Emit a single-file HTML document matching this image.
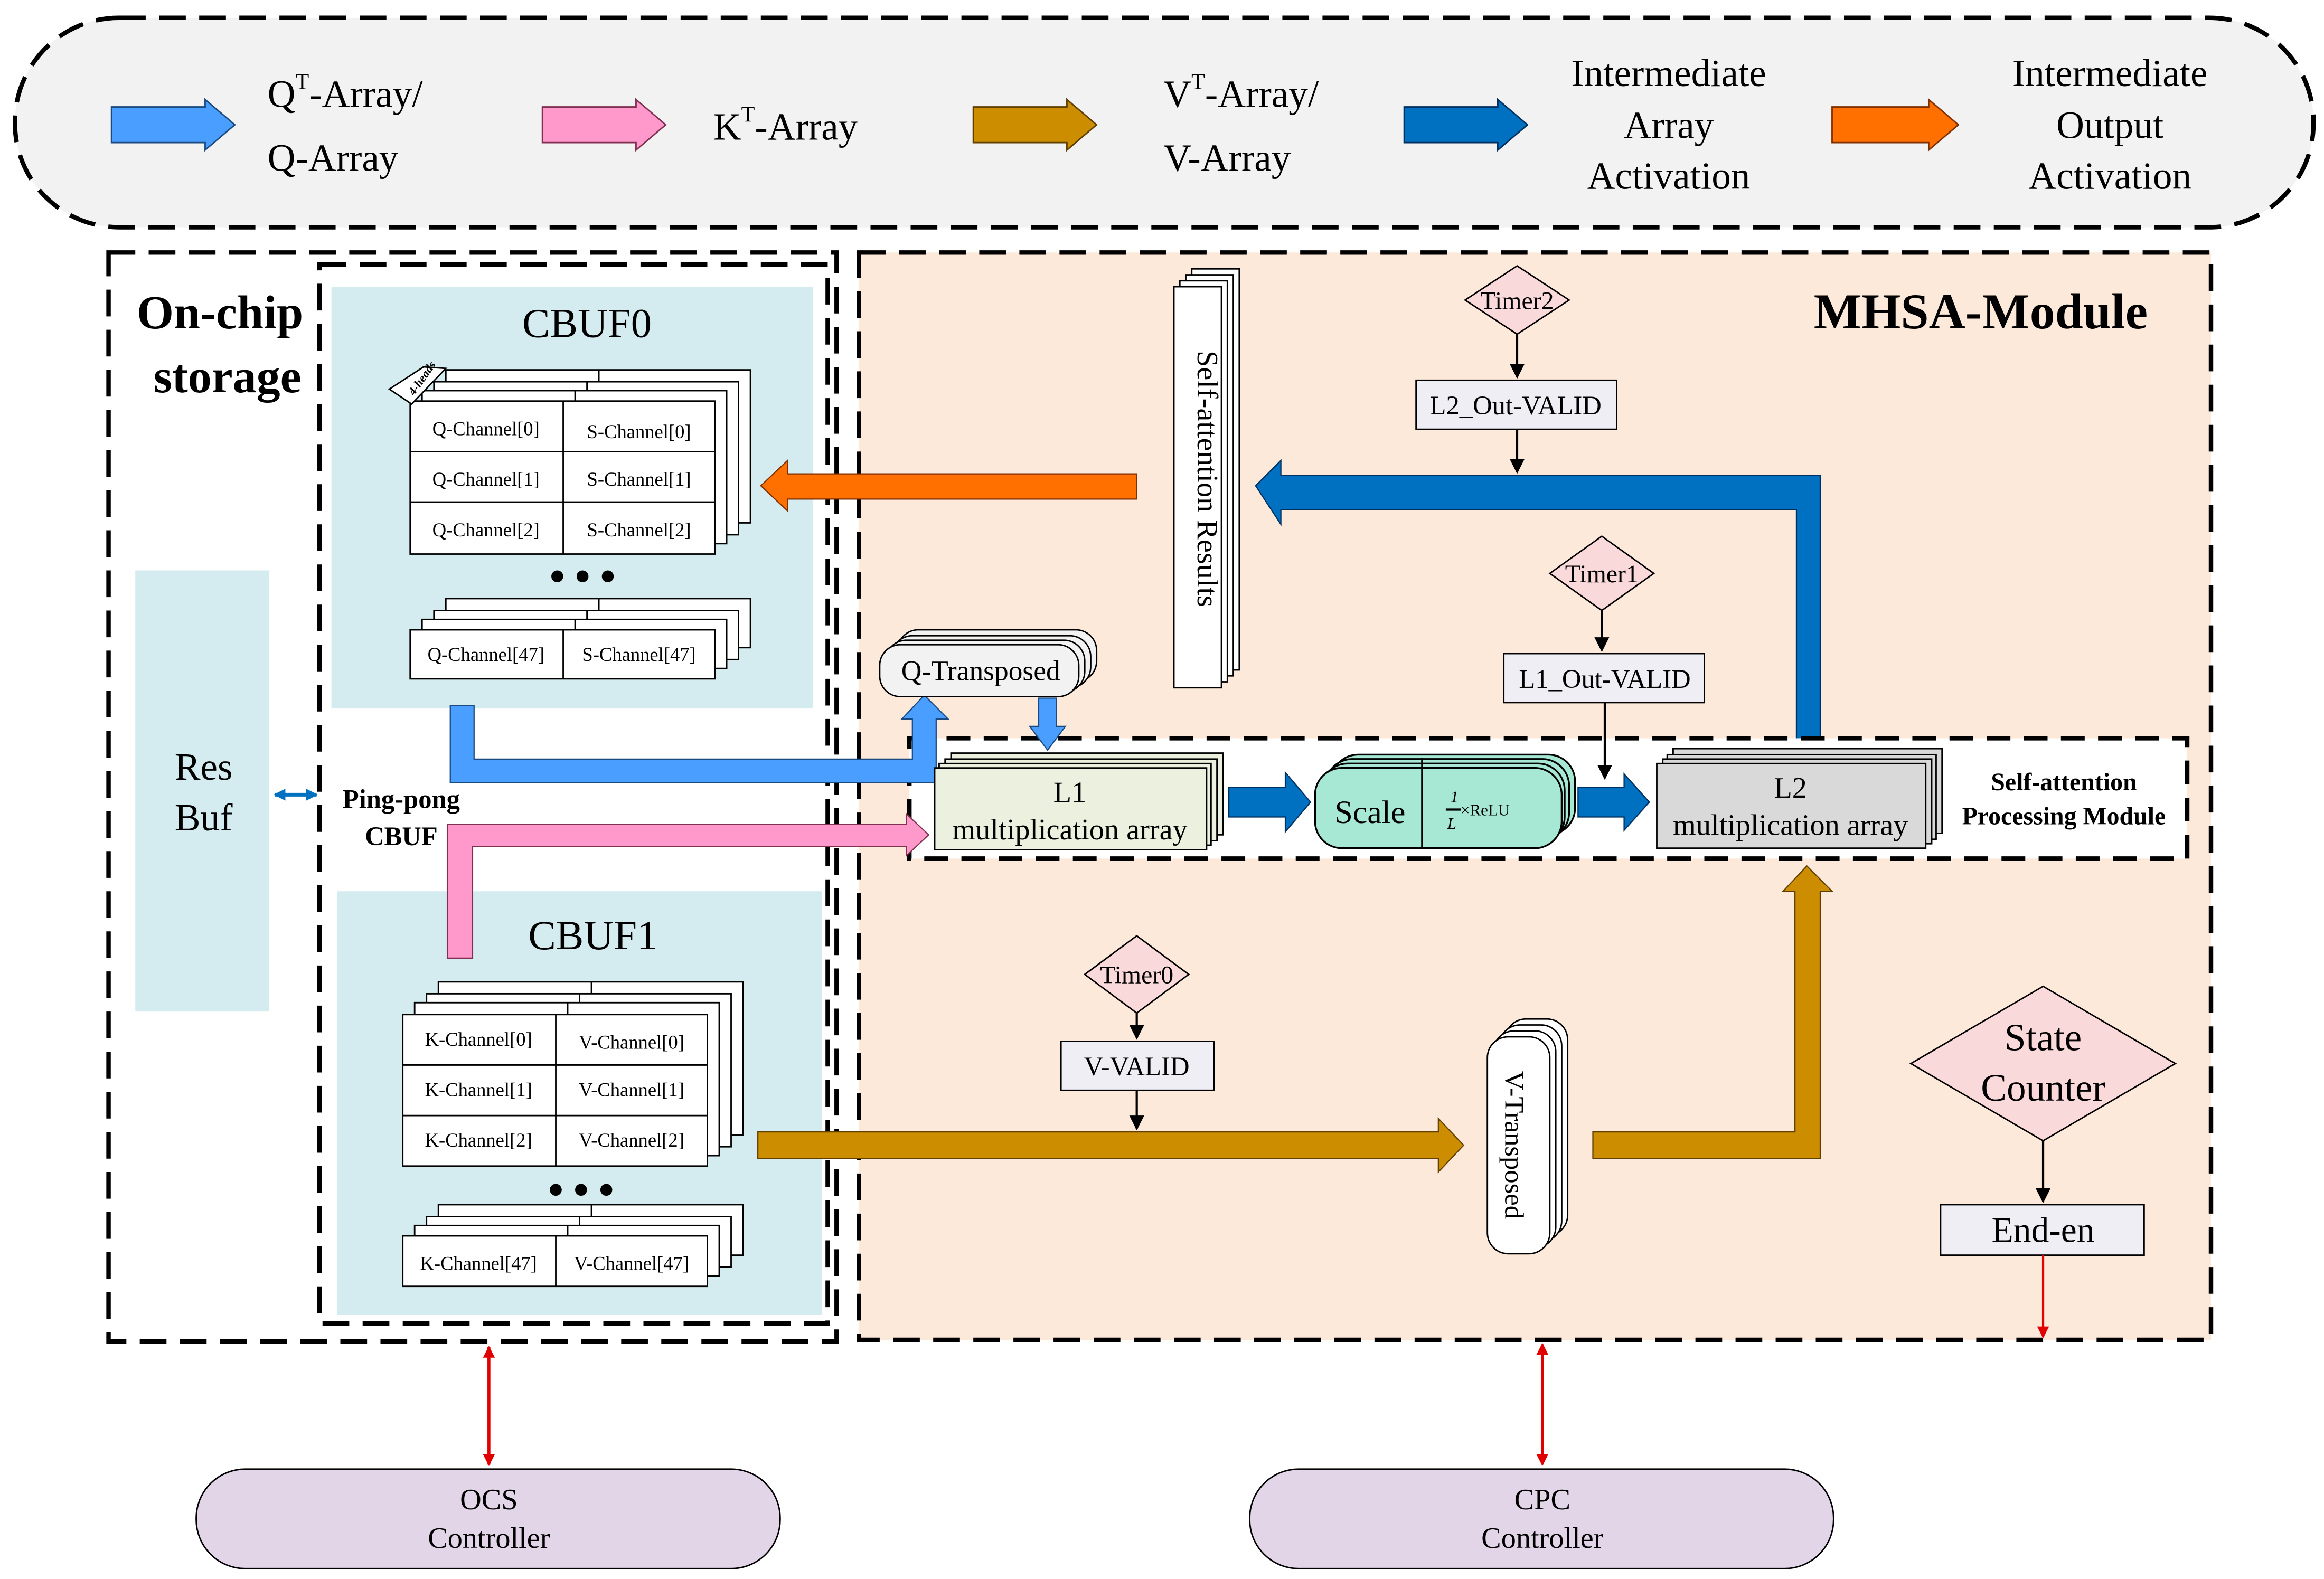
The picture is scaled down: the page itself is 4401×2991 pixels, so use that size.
<!DOCTYPE html>
<html><head><meta charset="utf-8"><style>
html,body{margin:0;padding:0;background:#fff;}
svg{display:block;}
text{font-family:"Liberation Serif",serif;fill:#000;}
</style></head><body>
<svg width="4401" height="2991" viewBox="0 0 1564 1063" xmlns="http://www.w3.org/2000/svg">
<defs>
<marker id="ra" markerWidth="8" markerHeight="8" refX="7" refY="4" orient="auto-start-reverse" markerUnits="userSpaceOnUse"><path d="M0,0 L8,4 L0,8 z" fill="#e00000"/></marker>
<marker id="ka" markerWidth="10" markerHeight="10" refX="9" refY="5" orient="auto" markerUnits="userSpaceOnUse"><path d="M0,0 L10,5 L0,10 z" fill="#000"/></marker>
<marker id="ba" markerWidth="8" markerHeight="8" refX="7" refY="4" orient="auto-start-reverse" markerUnits="userSpaceOnUse"><path d="M0,0 L8,4 L0,8 z" fill="#0070c0"/></marker>
</defs>

<!-- Legend -->
<rect x="10" y="12" width="1547" height="141" rx="70" fill="#f2f2f2" stroke="#000" stroke-width="3" stroke-dasharray="18,9"/>
<polygon points="75,72 138,72 138,67 158,84 138,101 138,96 75,96" fill="#4a9eff" stroke="#1a4a80" stroke-width="1"/>
<text x="180" y="72" font-size="26">Q<tspan font-size="15" dy="-12">T</tspan><tspan dy="12">-Array/</tspan></text>
<text x="180" y="115" font-size="26">Q-Array</text>
<polygon points="365,72 428,72 428,67 448,84 428,101 428,96 365,96" fill="#ff99cc" stroke="#803050" stroke-width="1"/>
<text x="480" y="94" font-size="26">K<tspan font-size="15" dy="-12">T</tspan><tspan dy="12">-Array</tspan></text>
<polygon points="655,72 718,72 718,67 738,84 718,101 718,96 655,96" fill="#cc8e00" stroke="#604000" stroke-width="1"/>
<text x="783" y="72" font-size="26">V<tspan font-size="15" dy="-12">T</tspan><tspan dy="12">-Array/</tspan></text>
<text x="783" y="115" font-size="26">V-Array</text>
<polygon points="945,72 1008,72 1008,67 1028,84 1008,101 1008,96 945,96" fill="#0070c0" stroke="#003060" stroke-width="1"/>
<text x="1123" y="58" font-size="26" text-anchor="middle">Intermediate</text>
<text x="1123" y="93" font-size="26" text-anchor="middle">Array</text>
<text x="1123" y="127" font-size="26" text-anchor="middle">Activation</text>
<polygon points="1233,72 1298,72 1298,67 1318,84 1298,101 1298,96 1233,96" fill="#ff7000" stroke="#803000" stroke-width="1"/>
<text x="1420" y="58" font-size="26" text-anchor="middle">Intermediate</text>
<text x="1420" y="93" font-size="26" text-anchor="middle">Output</text>
<text x="1420" y="127" font-size="26" text-anchor="middle">Activation</text>

<!-- MHSA region -->
<rect x="578" y="170" width="910" height="732" fill="#fde9d9" stroke="#000" stroke-width="3" stroke-dasharray="18,9"/>
<!-- On-chip storage -->
<rect x="73" y="170" width="490" height="733" fill="none" stroke="#000" stroke-width="3" stroke-dasharray="18,9"/>
<rect x="215" y="178" width="342" height="713" fill="none" stroke="#000" stroke-width="3" stroke-dasharray="18,9"/>
<rect x="223" y="193" width="324" height="284" fill="#d4ecf0"/>
<rect x="227" y="600" width="326" height="285" fill="#d4ecf0"/>
<rect x="91" y="384" width="90" height="297" fill="#d4ecf0"/>
<text x="148" y="221" font-size="32" font-weight="bold" text-anchor="middle">On-chip</text>
<text x="153" y="264" font-size="32" font-weight="bold" text-anchor="middle">storage</text>
<text x="395" y="227" font-size="28" text-anchor="middle">CBUF0</text>
<text x="399" y="639" font-size="28" text-anchor="middle">CBUF1</text>
<text x="137" y="525" font-size="26" text-anchor="middle">Res</text>
<text x="137" y="559" font-size="26" text-anchor="middle">Buf</text>
<text x="270" y="544" font-size="18" font-weight="bold" text-anchor="middle">Ping-pong</text>
<text x="270" y="569" font-size="18" font-weight="bold" text-anchor="middle">CBUF</text>
<line x1="185" y1="535" x2="213" y2="535" stroke="#0070c0" stroke-width="2.5" marker-start="url(#ba)" marker-end="url(#ba)"/>

<!-- CBUF0 tables -->
<g stroke="#000" stroke-width="1" fill="#fff">
<rect x="300" y="249" width="205" height="103"/><line x1="403" y1="249" x2="403" y2="260"/>
<rect x="292" y="257" width="205" height="103"/><line x1="395" y1="257" x2="395" y2="268"/>
<rect x="284" y="263" width="205" height="103"/><line x1="387" y1="263" x2="387" y2="274"/>
<rect x="276" y="270" width="205" height="103"/>
<line x1="379" y1="270" x2="379" y2="373"/><line x1="276" y1="304" x2="481" y2="304"/><line x1="276" y1="338" x2="481" y2="338"/>
<rect x="300" y="403" width="205" height="33"/><line x1="403" y1="403" x2="403" y2="414"/>
<rect x="292" y="411" width="205" height="33"/><line x1="395" y1="411" x2="395" y2="422"/>
<rect x="284" y="417" width="205" height="33"/><line x1="387" y1="417" x2="387" y2="428"/>
<rect x="276" y="424" width="205" height="33"/><line x1="379" y1="424" x2="379" y2="457"/>
</g>
<polygon points="262,262 285,247 300,248 277,272" fill="#fff" stroke="#000" stroke-width="1"/>
<text x="270" y="266" font-size="8" font-weight="bold" font-style="italic" transform="rotate(-55 275 258)">4-heads</text>
<g font-size="13">
<text x="327" y="293" text-anchor="middle">Q-Channel[0]</text><text x="430" y="295" text-anchor="middle">S-Channel[0]</text>
<text x="327" y="327" text-anchor="middle">Q-Channel[1]</text><text x="430" y="327" text-anchor="middle">S-Channel[1]</text>
<text x="327" y="361" text-anchor="middle">Q-Channel[2]</text><text x="430" y="361" text-anchor="middle">S-Channel[2]</text>
<text x="327" y="445" text-anchor="middle">Q-Channel[47]</text><text x="430" y="445" text-anchor="middle">S-Channel[47]</text>
</g>
<circle cx="375" cy="388" r="4"/><circle cx="392" cy="388" r="4"/><circle cx="409" cy="388" r="4"/>

<!-- CBUF1 tables -->
<g stroke="#000" stroke-width="1" fill="#fff">
<rect x="295" y="661" width="205" height="103"/><line x1="398" y1="661" x2="398" y2="672"/>
<rect x="287" y="669" width="205" height="103"/><line x1="390" y1="669" x2="390" y2="680"/>
<rect x="279" y="675" width="205" height="103"/><line x1="382" y1="675" x2="382" y2="686"/>
<rect x="271" y="683" width="205" height="102"/>
<line x1="374" y1="683" x2="374" y2="785"/><line x1="271" y1="717" x2="476" y2="717"/><line x1="271" y1="751" x2="476" y2="751"/>
<rect x="295" y="811" width="205" height="34"/><line x1="398" y1="811" x2="398" y2="822"/>
<rect x="287" y="819" width="205" height="34"/><line x1="390" y1="819" x2="390" y2="830"/>
<rect x="279" y="825" width="205" height="34"/><line x1="382" y1="825" x2="382" y2="836"/>
<rect x="271" y="832" width="205" height="34"/><line x1="374" y1="832" x2="374" y2="866"/>
</g>
<g font-size="13">
<text x="322" y="704" text-anchor="middle">K-Channel[0]</text><text x="425" y="706" text-anchor="middle">V-Channel[0]</text>
<text x="322" y="738" text-anchor="middle">K-Channel[1]</text><text x="425" y="738" text-anchor="middle">V-Channel[1]</text>
<text x="322" y="772" text-anchor="middle">K-Channel[2]</text><text x="425" y="772" text-anchor="middle">V-Channel[2]</text>
<text x="322" y="855" text-anchor="middle">K-Channel[47]</text><text x="425" y="855" text-anchor="middle">V-Channel[47]</text>
</g>
<circle cx="374" cy="801" r="4"/><circle cx="391" cy="801" r="4"/><circle cx="408" cy="801" r="4"/>

<text x="1333" y="221" font-size="34" font-weight="bold" text-anchor="middle">MHSA-Module</text>

<!-- Self-attention Results -->
<g stroke="#000" stroke-width="1" fill="#fff">
<rect x="802" y="181" width="32" height="270"/>
<rect x="798" y="185" width="32" height="270"/>
<rect x="794" y="189" width="32" height="270"/>
<rect x="790" y="193" width="32" height="270"/>
</g>
<text x="806" y="236" font-size="20" transform="rotate(90 806 236)">Self-attention Results</text>

<!-- Orange arrow -->
<polygon points="765,319 530,319 530,310 512,327 530,344 530,336 765,336" fill="#ff7000" stroke="#803000" stroke-width="0.8"/>

<!-- Dark blue L arrow from L2 up and left -->
<polygon points="1209,505 1209,343 862,343 862,353 845,327 862,310 862,320 1225,320 1225,505" fill="#0070c0" stroke="#003060" stroke-width="0.8"/>

<!-- Self-attention Processing Module box -->
<rect x="612" y="497" width="860" height="81" fill="#fff" stroke="#000" stroke-width="3" stroke-dasharray="16,9"/>

<!-- Blue Q arrow -->
<polygon points="303,475 319,475 319,511 614,511 614,484 607,484 622,468 638,484 630,484 630,527 303,527" fill="#4a9eff" stroke="#1a4a80" stroke-width="0.8"/>
<!-- Pink K arrow -->
<polygon points="301,645 301,555 610,555 610,548 625,562 610,576 610,570 318,570 318,645" fill="#ff99cc" stroke="#803050" stroke-width="0.8"/>

<!-- Q-Transposed -->
<g stroke="#000" stroke-width="1" fill="#f2f2f2">
<rect x="604" y="424" width="134" height="35" rx="14"/>
<rect x="600" y="428" width="134" height="35" rx="14"/>
<rect x="596" y="431" width="134" height="35" rx="14"/>
<rect x="592" y="434" width="134" height="35" rx="14"/>
</g>
<text x="660" y="458" font-size="19" text-anchor="middle">Q-Transposed</text>
<polygon points="699,470 711,470 711,489 717,489 705,505 693,489 699,489" fill="#4a9eff" stroke="#1a4a80" stroke-width="0.8"/>

<!-- L1 -->
<g stroke="#000" stroke-width="1" fill="#ebf1de">
<rect x="640" y="507" width="183" height="55"/>
<rect x="636" y="511" width="183" height="55"/>
<rect x="632" y="514" width="183" height="55"/>
<rect x="629" y="517" width="183" height="55"/>
</g>
<text x="720" y="540" font-size="20" text-anchor="middle">L1</text>
<text x="720" y="565" font-size="20" text-anchor="middle">multiplication array</text>
<polygon points="827,530 865,530 865,520 882,540 865,560 865,550 827,550" fill="#0070c0" stroke="#003060" stroke-width="0.8"/>

<!-- Scale -->
<g stroke="#000" stroke-width="1.2" fill="#a6e8d4">
<rect x="896" y="508" width="164" height="54" rx="18"/>
<rect x="892" y="511" width="164" height="54" rx="18"/>
<rect x="889" y="514" width="164" height="54" rx="18"/>
<rect x="885" y="517" width="166" height="54" rx="18"/>
</g>
<line x1="957" y1="510" x2="957" y2="571" stroke="#000" stroke-width="1.2"/>
<text x="922" y="554" font-size="22" text-anchor="middle">Scale</text>
<text x="976" y="540" font-size="11" font-style="italic">1</text>
<line x1="973" y1="545" x2="983" y2="545" stroke="#000" stroke-width="1.5"/>
<text x="974" y="558" font-size="11" font-style="italic">L</text>
<text x="983" y="549" font-size="11">×ReLU</text>
<polygon points="1062,530 1093,530 1093,521 1110,540 1093,559 1093,550 1062,550" fill="#0070c0" stroke="#003060" stroke-width="0.8"/>

<!-- L2 -->
<g stroke="#000" stroke-width="1" fill="#d9d9d9">
<rect x="1126" y="504" width="181" height="57"/>
<rect x="1122" y="508" width="181" height="57"/>
<rect x="1119" y="511" width="181" height="57"/>
<rect x="1115" y="514" width="181" height="57"/>
</g>
<text x="1205" y="537" font-size="20" text-anchor="middle">L2</text>
<text x="1205" y="562" font-size="20" text-anchor="middle">multiplication array</text>
<text x="1389" y="532" font-size="17" font-weight="bold" text-anchor="middle">Self-attention</text>
<text x="1389" y="555" font-size="17" font-weight="bold" text-anchor="middle">Processing Module</text>

<!-- Timers -->
<polygon points="1021,179 1056,202 1021,225 986,202" fill="#f9d9d9" stroke="#000" stroke-width="1"/>
<text x="1021" y="208" font-size="17" text-anchor="middle">Timer2</text>
<line x1="1021" y1="225" x2="1021" y2="254" stroke="#000" stroke-width="1.5" marker-end="url(#ka)"/>
<rect x="953" y="256" width="135" height="33" fill="#f0eef5" stroke="#000" stroke-width="1"/>
<text x="1020" y="279" font-size="18" text-anchor="middle">L2_Out-VALID</text>
<line x1="1021" y1="289" x2="1021" y2="318" stroke="#000" stroke-width="1.5" marker-end="url(#ka)"/>

<polygon points="1078,361 1113,386 1078,411 1043,386" fill="#f9d9d9" stroke="#000" stroke-width="1"/>
<text x="1078" y="392" font-size="17" text-anchor="middle">Timer1</text>
<line x1="1078" y1="411" x2="1078" y2="438" stroke="#000" stroke-width="1.5" marker-end="url(#ka)"/>
<rect x="1012" y="440" width="135" height="33" fill="#f0eef5" stroke="#000" stroke-width="1"/>
<text x="1080" y="463" font-size="18" text-anchor="middle">L1_Out-VALID</text>
<line x1="1080" y1="473" x2="1080" y2="524" stroke="#000" stroke-width="1.5" marker-end="url(#ka)"/>

<polygon points="765,630 800,656 765,682 730,656" fill="#f9d9d9" stroke="#000" stroke-width="1"/>
<text x="765" y="662" font-size="17" text-anchor="middle">Timer0</text>
<line x1="765" y1="682" x2="765" y2="699" stroke="#000" stroke-width="1.5" marker-end="url(#ka)"/>
<rect x="714" y="701" width="103" height="33" fill="#f0eef5" stroke="#000" stroke-width="1"/>
<text x="765" y="724" font-size="18" text-anchor="middle">V-VALID</text>
<line x1="765" y1="734" x2="765" y2="760" stroke="#000" stroke-width="1.5" marker-end="url(#ka)"/>

<!-- V-Transposed -->
<g stroke="#000" stroke-width="1" fill="#fff">
<rect x="1013" y="686" width="42" height="146" rx="14"/>
<rect x="1009" y="690" width="42" height="146" rx="14"/>
<rect x="1005" y="694" width="42" height="146" rx="14"/>
<rect x="1001" y="698" width="42" height="146" rx="14"/>
</g>
<text x="1013" y="721" font-size="18" transform="rotate(90 1013 721)">V-Transposed</text>

<!-- Gold arrows -->
<polygon points="510,762 968,762 968,753 985,771 968,789 968,780 510,780" fill="#cc8e00" stroke="#604000" stroke-width="0.8"/>
<polygon points="1072,762 1208,762 1208,600 1200,600 1216,583 1233,600 1225,600 1225,780 1072,780" fill="#cc8e00" stroke="#604000" stroke-width="0.8"/>

<!-- State counter -->
<polygon points="1375,664 1464,716 1375,768 1286,716" fill="#f9d9d9" stroke="#000" stroke-width="1"/>
<text x="1375" y="707" font-size="26" text-anchor="middle">State</text>
<text x="1375" y="741" font-size="26" text-anchor="middle">Counter</text>
<line x1="1375" y1="768" x2="1375" y2="809" stroke="#000" stroke-width="1.5" marker-end="url(#ka)"/>
<rect x="1306" y="811" width="137" height="34" fill="#f0eef5" stroke="#000" stroke-width="1"/>
<text x="1375" y="836" font-size="24" text-anchor="middle">End-en</text>
<line x1="1375" y1="845" x2="1375" y2="900" stroke="#e00000" stroke-width="1.5" marker-end="url(#ra)"/>

<!-- Controllers -->
<line x1="329" y1="907" x2="329" y2="986" stroke="#e00000" stroke-width="2" marker-start="url(#ra)" marker-end="url(#ra)"/>
<line x1="1038" y1="905" x2="1038" y2="986" stroke="#e00000" stroke-width="2" marker-start="url(#ra)" marker-end="url(#ra)"/>
<rect x="132" y="989" width="393" height="67" rx="33" fill="#e1d5e7" stroke="#000" stroke-width="1"/>
<text x="329" y="1016" font-size="20" text-anchor="middle" font-family="Liberation Sans, sans-serif">OCS</text>
<text x="329" y="1042" font-size="20" text-anchor="middle" font-family="Liberation Sans, sans-serif">Controller</text>
<rect x="841" y="989" width="393" height="67" rx="33" fill="#e1d5e7" stroke="#000" stroke-width="1"/>
<text x="1038" y="1016" font-size="20" text-anchor="middle" font-family="Liberation Sans, sans-serif">CPC</text>
<text x="1038" y="1042" font-size="20" text-anchor="middle" font-family="Liberation Sans, sans-serif">Controller</text>
</svg>
</body></html>
